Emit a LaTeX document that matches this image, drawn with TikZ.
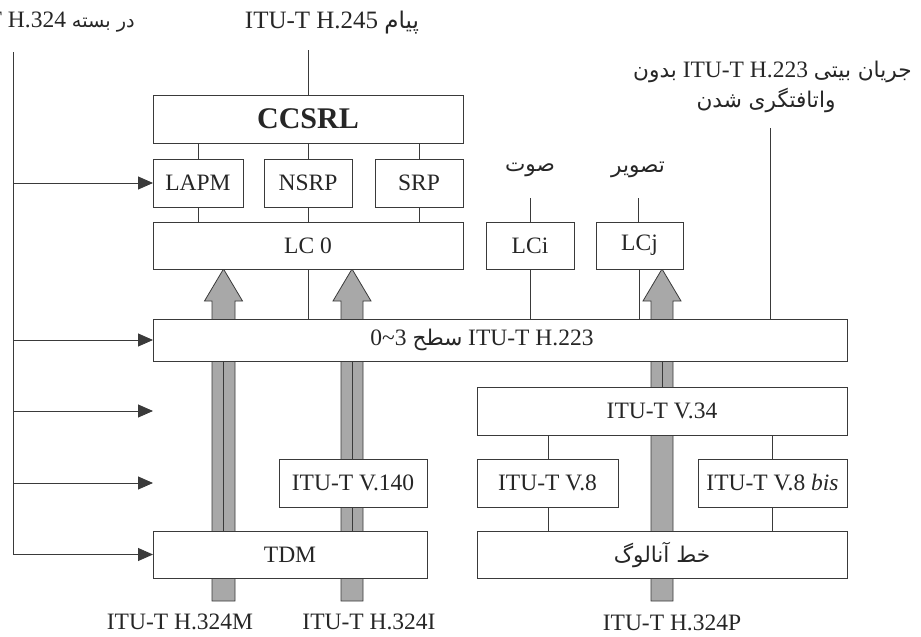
\documentclass[tikz,border=0pt]{standalone}
\usepackage{fontspec}
\setmainfont{Liberation Serif}
\newfontfamily\fa[Script=Arabic,Scale=0.92]{DejaVu Sans}
\TeXXeTstate=1
\usetikzlibrary{arrows.meta}
\definecolor{ln}{HTML}{3A3A3A}
\definecolor{barc}{HTML}{A8A8A8}
\newcommand\Rtl[1]{{\fa\beginR #1\endR}}
\begin{document}
\begin{tikzpicture}[x=1pt,y=-1pt,
  box/.style={draw=ln, line width=0.9pt, fill=white, inner sep=0pt, outer sep=0pt, anchor=north west, text=black!85, font=\fontsize{23.5}{28}\selectfont},
  lbl/.style={inner sep=0pt, text=black!85, font=\fontsize{23.5}{28}\selectfont},
  conn/.style={draw=ln, line width=0.9pt},
  arr/.style={draw=ln, line width=0.9pt, -{Triangle[length=15pt,width=13pt]}},
  garrow/.style={draw=ln, line width=0.8pt, fill=barc}]
\useasboundingbox (0,0) rectangle (921,637);

% gray arrows / bars
\draw[garrow] (212,601) -- (212,301) -- (204.5,301) -- (223.5,269) -- (242.5,301) -- (235,301) -- (235,601) -- cycle;
\draw[garrow] (341,601) -- (341,301) -- (333,301) -- (352,269) -- (371,301) -- (363,301) -- (363,601) -- cycle;
\draw[garrow] (651,601) -- (651,301) -- (643,301) -- (662,269) -- (681,301) -- (673,301) -- (673,601) -- cycle;

% boxes
\node[box, minimum width=310pt, minimum height=48pt, font=\fontsize{30}{34}\selectfont\bfseries] (ccsrl) at (153,95) {CCSRL};
\node[box, minimum width=90pt, minimum height=48pt] (lapm) at (153,159) {LAPM};
\node[box, minimum width=88pt, minimum height=48pt] (nsrp) at (264,159) {NSRP};
\node[box, minimum width=88pt, minimum height=48pt] (srp) at (375,159) {SRP};
\node[box, minimum width=310pt, minimum height=47pt] (lc0) at (153,222) {LC 0};
\node[box, minimum width=88pt, minimum height=47pt] (lci) at (486,222) {LCi};
\node[box, minimum width=87pt, minimum height=47pt] (lcj) at (596,222) {LCj};
\node[box, minimum width=694pt, minimum height=42pt] (h223) at (153,319) {0\textasciitilde3 \Rtl{سطح} ITU-T H.223\hspace*{36pt}};
\node[box, minimum width=370pt, minimum height=48pt] (v34) at (477,387) {ITU-T V.34};
\node[box, minimum width=148pt, minimum height=48pt] (v140) at (279,459) {ITU-T V.140};
\node[box, minimum width=141pt, minimum height=48pt] (v8) at (477,459) {ITU-T V.8};
\node[box, minimum width=149pt, minimum height=48pt] (v8bis) at (698,459) {ITU-T V.8 \textit{bis}};
\node[box, minimum width=274pt, minimum height=47pt] (tdm) at (153,531) {TDM};
\node[box, minimum width=370pt, minimum height=47pt] (analog) at (477,531) {\Rtl{خط آنالوگ}};

% labels
\node[lbl, font=\fontsize{25}{30}\selectfont] (h245lbl) at (332,23) {ITU-T H.245 \Rtl{پیام}};
\node[lbl, anchor=east] (h324lbl) at (135,22) {ITU-T H.324 {\fontsize{21}{26}\selectfont\Rtl{در بسته}}};
\node[lbl, anchor=west] (bs1) at (633,72) {\Rtl{بدون} ITU-T H.223 \Rtl{جریان بیتی}};
\node[lbl] (bs2) at (766,100) {\Rtl{واتافتگری شدن}};
\node[lbl] (sawt) at (530,170) {\Rtl{صوت}};
\node[lbl] (tasvir) at (638,170) {\Rtl{تصویر}};
\node[lbl] (h324m) at (180,622) {ITU-T H.324M};
\node[lbl] (h324i) at (369,622) {ITU-T H.324I};
\node[lbl] (h324p) at (672,623) {ITU-T H.324P};

% column coordinates
\coordinate (cN) at (308.5,0);
\coordinate (cL) at (198,0);
\coordinate (cS) at (419,0);
\coordinate (cI) at (530,0);
\coordinate (cJ) at (639,0);
\coordinate (cA) at (223.5,0);
\coordinate (cB) at (352,0);
\coordinate (cC) at (662,0);
\coordinate (cV8) at (548,0);
\coordinate (cV8b) at (772,0);
\coordinate (h245end) at (308.5,50);
\coordinate (bsend) at (770,128);
\coordinate (sawtend) at (530,198);
\coordinate (tasvirend) at (638,198);
\coordinate (bustop) at (13,52);
\coordinate (bus1) at (13,183);
\coordinate (bus2) at (13,340);
\coordinate (bus3) at (13,411);
\coordinate (bus4) at (13,483);
\coordinate (bus5) at (13,554.5);
\coordinate (free3) at (153,411);
\coordinate (free4) at (153,483);

% connectors
\draw[conn] (h245end) -- (h245end |- ccsrl.north);
\draw[conn] (cL |- ccsrl.south) -- (cL |- lapm.north);
\draw[conn] (cN |- ccsrl.south) -- (cN |- nsrp.north);
\draw[conn] (cS |- ccsrl.south) -- (cS |- srp.north);
\draw[conn] (cL |- lapm.south) -- (cL |- lc0.north);
\draw[conn] (cN |- nsrp.south) -- (cN |- lc0.north);
\draw[conn] (cS |- srp.south) -- (cS |- lc0.north);
\draw[conn] (cN |- lc0.south) -- (cN |- h223.north);
\draw[conn] (sawtend) -- (sawtend |- lci.north);
\draw[conn] (cI |- lci.south) -- (cI |- h223.north);
\draw[conn] (tasvirend) -- (tasvirend |- lcj.north);
\draw[conn] (cJ |- lcj.south) -- (cJ |- h223.north);
\draw[conn] (bsend) -- (bsend |- h223.north);
\draw[conn] (cA |- h223.south) -- (cA |- tdm.north);
\draw[conn] (cB |- h223.south) -- (cB |- v140.north);
\draw[conn] (cB |- v140.south) -- (cB |- tdm.north);
\draw[conn] (cC |- h223.south) -- (cC |- v34.north);
\draw[conn] (cV8 |- v34.south) -- (cV8 |- v8.north);
\draw[conn] (cV8b |- v34.south) -- (cV8b |- v8bis.north);
\draw[conn] (cV8 |- v8.south) -- (cV8 |- analog.north);
\draw[conn] (cV8b |- v8bis.south) -- (cV8b |- analog.north);

% left bus
\draw[conn] (bustop) -- (bus5);
\draw[arr] (bus1) -- (lapm.west);
\draw[arr] (bus2) -- (bus2 -| h223.west);
\draw[arr] (bus3) -- (free3);
\draw[arr] (bus4) -- (free4);
\draw[arr] (bus5) -- (tdm.west);
\end{tikzpicture}
\end{document}
